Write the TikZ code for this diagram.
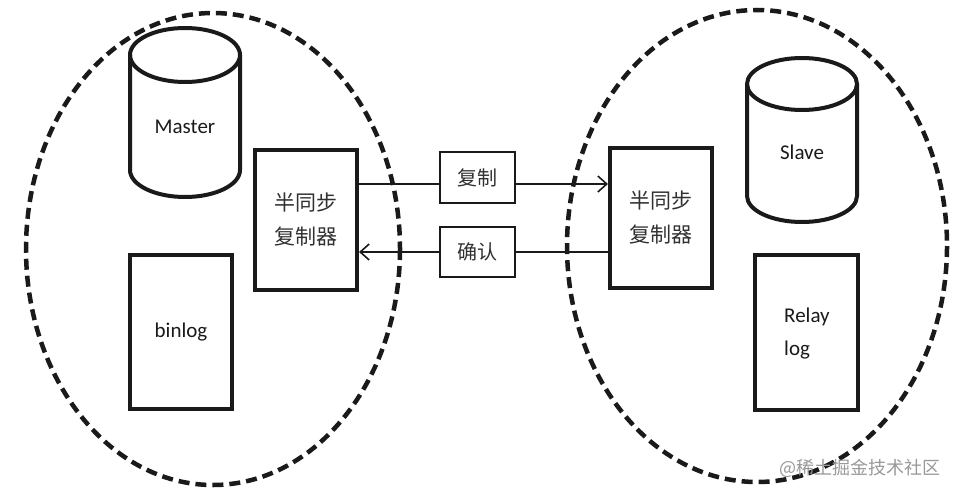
\documentclass[tikz,border=0pt]{standalone}
\usepackage{fontspec}
\setmainfont{Carlito}
\newfontfamily\cjk{Noto Sans CJK SC}
\usetikzlibrary{arrows.meta}
\definecolor{ink}{HTML}{1A1A1A}
\begin{document}
\begin{tikzpicture}[x=1pt,y=-1pt,
  group/.style={draw=ink, line width=4.5pt, dash pattern=on 11pt off 6pt},
  thick box/.style={draw=ink, line width=4pt, inner sep=0pt},
  thin box/.style={draw=ink, line width=1.3pt, inner sep=0pt, minimum width=75pt, font=\cjk\fontsize{20}{24}\selectfont, text=ink!90},
  lbl/.style={font=\fontsize{21}{24}\selectfont, text=ink, inner sep=0pt},
  cjklbl/.style={font=\cjk\fontsize{21}{34}\selectfont, text=ink!90, align=center, inner sep=0pt},
  flow/.style={draw=ink, line width=1.6pt, -{Straight Barb[length=9pt,width=16pt,line width=1.6pt]}},
  plain/.style={draw=ink, line width=1.6pt}
]
\useasboundingbox[fill=white] (0,0) rectangle (957,495);

% dashed groups
\draw[group] (213,249) ellipse [x radius=187, y radius=236];
\draw[group] (757,246) ellipse [x radius=190, y radius=236];

% Master cylinder
\draw[ink, line width=4pt, line join=round] (130,55) -- (130,170) arc[start angle=180, end angle=0, x radius=55, y radius=27] -- (240,55);
\draw[ink, line width=4pt] (185,55) ellipse [x radius=55, y radius=27];
\node[lbl] (master) at (185,127) {Master};

% Slave cylinder
\draw[ink, line width=4pt, line join=round] (747,84) -- (747,196) arc[start angle=180, end angle=0, x radius=55, y radius=26] -- (857,84);
\draw[ink, line width=4pt] (802,84) ellipse [x radius=55, y radius=26];
\node[lbl] (slave) at (802,152) {Slave};

% log boxes
\node[thick box, minimum width=102pt, minimum height=154pt] (binlog) at (181,332) {};
\node[lbl] at (binlog.center) {binlog};
\node[thick box, minimum width=103pt, minimum height=155pt] (relay) at (806,332) {};
\node[lbl, align=left, anchor=west, font=\fontsize{21}{33}\selectfont] (relaytxt) at (784,334) {Relay\\log};

% semi-sync replicators
\node[thick box, minimum width=102pt, minimum height=140pt, cjklbl] (lrep) at (306,220) {半同步\\复制器};
\node[thick box, minimum width=102pt, minimum height=140pt, cjklbl] (rrep) at (661,218) {半同步\\复制器};

% message boxes
\node[thin box, minimum height=51pt] (cp) at (477.5,177.5) {复制};
\node[thin box, minimum height=50pt] (ack) at (477.5,252) {确认};

% connectors
\draw[plain] (lrep.east |- 0,184) -- (cp.west |- 0,184);
\draw[flow] (cp.east |- 0,184) -- (rrep.west |- 0,184);
\draw[plain] (rrep.west |- ack.east) -- (ack.east);
\draw[flow] (ack.west) -- (lrep.east |- ack.west);

% watermark
\node[font=\cjk\fontsize{18}{20}\selectfont, text=black!40, anchor=west, inner sep=0pt] (wm) at (779,468) {@稀土掘金技术社区};
\end{tikzpicture}
\end{document}
